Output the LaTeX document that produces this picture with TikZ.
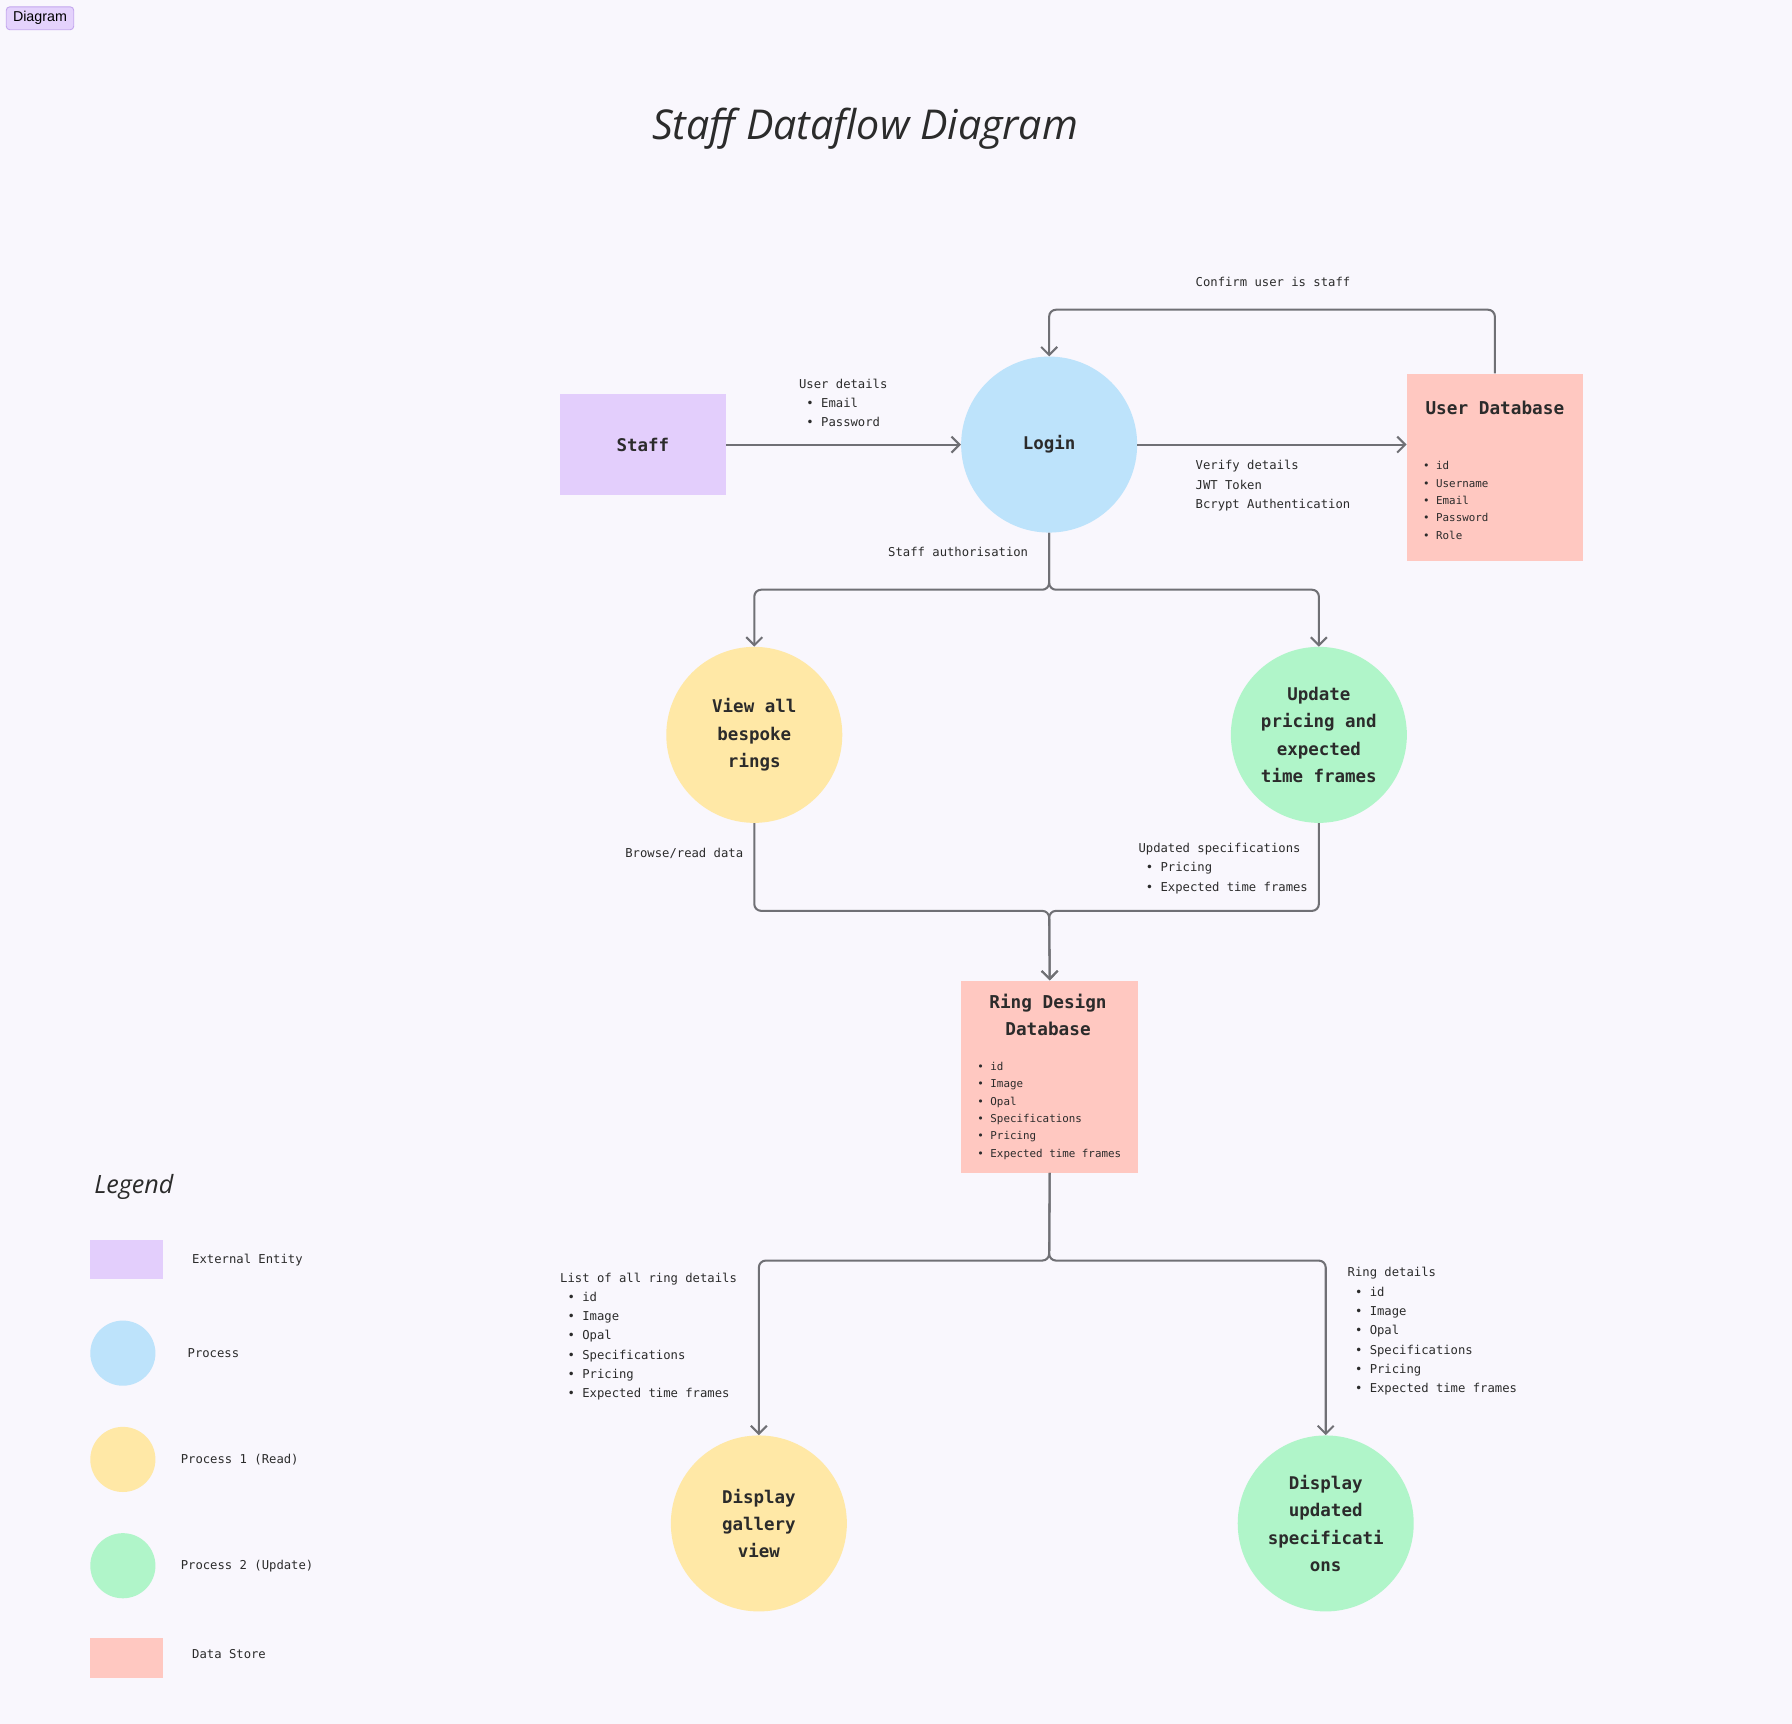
\documentclass[tikz,border=0pt]{standalone}
\usepackage{fontspec}
\setmonofont{DejaVu Sans Mono}
\newfontfamily\handfont{Open Sans}
\newfontfamily\badgefont{Liberation Sans}
\usetikzlibrary{arrows.meta,positioning,calc}
\definecolor{bgc}{HTML}{F9F7FD}
\definecolor{entityc}{HTML}{E3CEFC}
\definecolor{procc}{HTML}{BDE3FB}
\definecolor{readc}{HTML}{FFE8A6}
\definecolor{updc}{HTML}{B0F5C9}
\definecolor{storec}{HTML}{FFC8C1}
\definecolor{flowc}{HTML}{707075}
\definecolor{textc}{HTML}{2B2B2B}
\definecolor{badgec}{HTML}{E4D2FC}
\definecolor{badgeline}{HTML}{C3A6EE}
\tikzset{
    entity/.style={
    rectangle,fill=entityc,minimum width=145pt,minimum height=88pt,inner sep=0pt,
    text=textc,font=\ttfamily\bfseries\fontsize{15.3}{24}\selectfont
    },
    process/.style={
    circle,minimum size=154pt,inner sep=0pt,align=center,
    text=textc,font=\ttfamily\bfseries\fontsize{15.3}{24}\selectfont
    },
    store/.style={
    rectangle,fill=storec,inner sep=0pt
    },
    dbhead/.style={
    align=center,inner sep=0pt,text=textc,font=\ttfamily\bfseries\fontsize{15.5}{24}\selectfont
    },
    items/.style={
    anchor=west,align=left,inner sep=0pt,text=textc,font=\ttfamily\fontsize{9.5}{15.2}\selectfont
    },
    lbl/.style={
    anchor=west,align=left,inner sep=0pt,text=textc,font=\ttfamily\fontsize{10.7}{16.9}\selectfont
    },
    flow/.style={
    draw=flowc,line width=1.8pt,rounded corners=6pt,-{Straight Barb[length=7pt,width=14pt]}
    },
    badge/.style={
    rectangle,rounded corners=3pt,fill=badgec,draw=badgeline,line width=0.8pt,
    minimum width=59pt,minimum height=20pt,inner sep=0pt,font=\badgefont\fontsize{12.5}{14}\selectfont
    },
}

\begin{document}
\begin{tikzpicture}[x=1pt, y=-1pt]
   \fill[bgc] (0,0) rectangle (1568,1508.5);
   \useasboundingbox (0,0) rectangle (1568,1508.5);

   \node[badge] (tag) at (35,16) {Diagram};
   \node[text=textc, font=\handfont\itshape\fontsize{36}{40}\selectfont] (title) at (757,113) {Staff Dataflow Diagram};

   % main flow
   \node[entity] (staff) at (562.5,389) {Staff};
   \node[process, fill=procc] (login) at (918,389) {Login};
   \node[store, minimum width=154pt, minimum height=164pt] (udb) at (1308,409) {};
   \node[dbhead] (udbhead) at (1308,357) {User Database};
   \node[items] (udbitems) at (1245,438) {• id\\• Username\\• Email\\• Password\\• Role};

   \node[process, fill=readc] (view) at (660,643) {View all\\bespoke\\rings};
   \node[process, fill=updc] (update) at (1154,643) {Update\\pricing and\\expected\\time frames};

   \node[store, minimum width=155pt, minimum height=168pt] (rdd) at (918.5,942) {};
   \node[dbhead] (rddhead) at (917,888) {Ring Design\\Database};
   \node[items] (rdditems) at (855,972) {• id\\• Image\\• Opal\\• Specifications\\• Pricing\\• Expected time frames};

   \node[process, fill=readc] (gallery) at (664,1333) {Display\\gallery\\view};
   \node[process, fill=updc] (showspec) at (1160,1333) {Display\\updated\\specificati\\ons};

   \coordinate (loop) at (1308,271);
   \coordinate (split) at (918,516);
   \coordinate (merge) at (918,797);
   \coordinate (fork) at (918,1103);

   \draw[flow] (staff.east) -- (login.west);
   \draw[flow] (login.east) -- (login.east -| udb.west);
   \draw[flow] (udb.north) -- (loop) -| (login.north);
   \draw[flow] (login.south) -- (split) -| (view.north);
   \draw[flow] (login.south) -- (split) -| (update.north);
   \draw[flow] (view.south) |- (merge) -- (rdd.north);
   \draw[flow] (update.south) |- (merge) -- (rdd.north);
   \draw[flow] (rdd.south) -- (fork) -| (gallery.north);
   \draw[flow] (rdd.south) -- (fork) -| (showspec.north);

   % flow labels
   \node[lbl] (l1) at (699,352.5) {User details\\\ • Email\\\ • Password};
   \node[lbl] (l2) at (1046,247) {Confirm user is staff};
   \node[lbl] (l3) at (1046,425) {Verify details\\JWT Token\\Bcrypt Authentication};
   \node[lbl] (l4) at (777,483) {Staff authorisation};
   \node[lbl] (l5) at (547,747) {Browse/read data};
   \node[lbl] (l6) at (996,760) {Updated specifications\\\ • Pricing\\\ • Expected time frames};
   \node[lbl] (l7) at (490,1169.5) {List of all ring details\\\ • id\\\ • Image\\\ • Opal\\\ • Specifications\\\ • Pricing\\\ • Expected time frames};
   \node[lbl] (l8) at (1179,1165) {Ring details\\\ • id\\\ • Image\\\ • Opal\\\ • Specifications\\\ • Pricing\\\ • Expected time frames};

   % legend
   \node[text=textc, font=\handfont\itshape\fontsize{22}{24}\selectfont, anchor=west] (legend) at (79,1039) {Legend};
   \node[rectangle, fill=entityc, minimum width=64pt, minimum height=34pt, inner sep=0pt] (k1) at (111,1102) {};
   \node[circle, fill=procc, minimum size=57pt, inner sep=0pt] (k2) at (107.5,1184) {};
   \node[circle, fill=readc, minimum size=57pt, inner sep=0pt] (k3) at (107.5,1277) {};
   \node[circle, fill=updc, minimum size=57pt, inner sep=0pt] (k4) at (107.5,1370) {};
   \node[rectangle, fill=storec, minimum width=64pt, minimum height=35pt, inner sep=0pt] (k5) at (111,1450.5) {};
   \node[lbl] (t1) at (168,1103) {External Entity};
   \node[lbl] (t2) at (164,1184) {Process};
   \node[lbl] (t3) at (158,1277) {Process 1 (Read)};
   \node[lbl] (t4) at (158,1370) {Process 2 (Update)};
   \node[lbl] (t5) at (168,1447) {Data Store};
\end{tikzpicture}
\end{document}
